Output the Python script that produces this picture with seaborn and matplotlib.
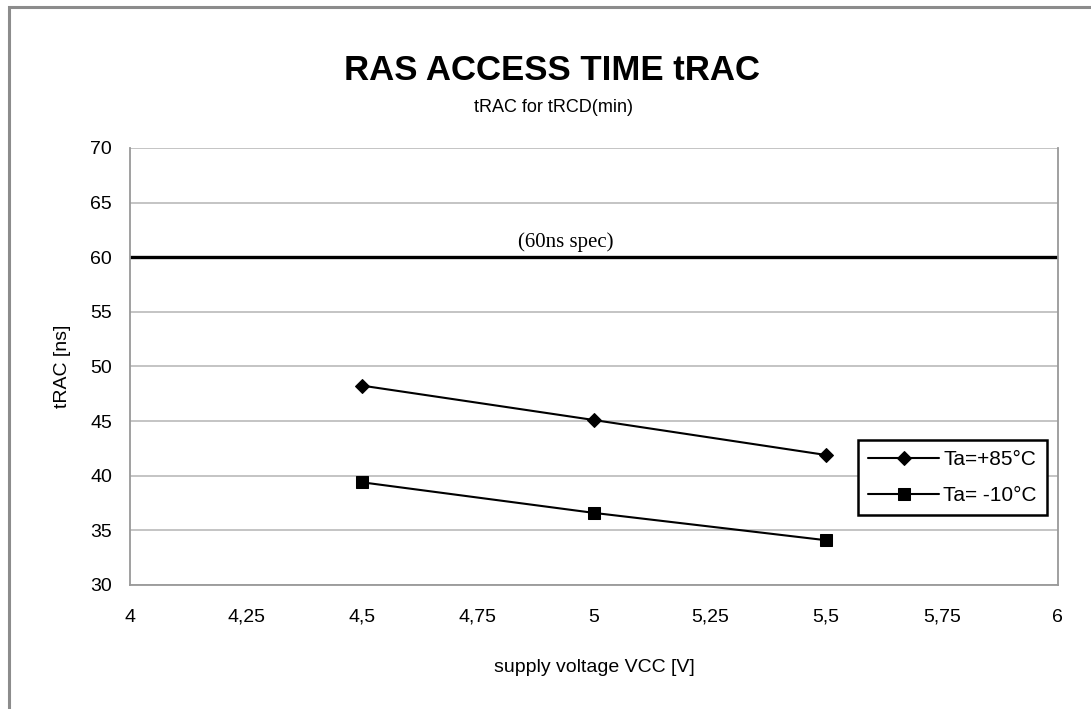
import pandas as pd
import numpy as np
import seaborn as sns
import matplotlib.pyplot as plt
from matplotlib.patches import Rectangle

# Data
vcc = [4.5, 5.0, 5.5]
trac_hot = [48.25, 45.1, 41.9]   # Ta=+85C
trac_cold = [39.4, 36.6, 34.1]   # Ta=-10C
series_names = ["Ta=+85°C", "Ta= -10°C"]
spec_value = 60

x_ticks = [4, 4.25, 4.5, 4.75, 5, 5.25, 5.5, 5.75, 6]
x_tick_labels = ["4", "4,25", "4,5", "4,75", "5", "5,25", "5,5", "5,75", "6"]
y_ticks = [30, 35, 40, 45, 50, 55, 60, 65, 70]

df = pd.DataFrame({
    "VCC": vcc + vcc,
    "tRAC": trac_hot + trac_cold,
    "Ta": [series_names[0]] * 3 + [series_names[1]] * 3,
})

sns.set_style("white")
plt.rcParams["font.family"] = ["Liberation Sans", "DejaVu Sans"]
plt.rcParams["text.color"] = "black"
plt.rcParams["axes.labelcolor"] = "black"
plt.rcParams["xtick.color"] = "black"
plt.rcParams["ytick.color"] = "black"

fig = plt.figure(figsize=(10.91, 7.09), dpi=100)
ax = fig.add_axes([0.1192, 0.1749, 0.8503, 0.6164])

# outer chart frame (only left/top visible in the reference)
fig.patches.append(Rectangle((0.0085, -0.05), 1.2, 1.04, transform=fig.transFigure,
                             fill=False, edgecolor="#8c8c8c", linewidth=2.2, zorder=0))

# horizontal gridlines
for yv in y_ticks:
    ax.axhline(yv, color="#c4c4c4", linewidth=1.4, zorder=0)

sns.lineplot(data=df, x="VCC", y="tRAC", hue="Ta", style="Ta",
             palette=["black", "black"], markers={series_names[0]: "D", series_names[1]: "s"},
             dashes=False, markersize=9, linewidth=1.5, markeredgecolor="black",
             ax=ax, zorder=3)

# 60 ns spec line
ax.axhline(spec_value, color="black", linewidth=2.4, zorder=2)
ax.text(4.94, spec_value + 0.45, "(60ns spec)", ha="center", va="bottom",
        fontsize=15, family=["Liberation Serif", "DejaVu Serif"])

ax.set_xlim(4, 6)
ax.set_ylim(30, 70)
ax.set_xticks(x_ticks)
ax.set_xticklabels(x_tick_labels)
ax.set_yticks(y_ticks)
ax.tick_params(axis="both", direction="inout", length=10, width=1, color="#999999",
               labelsize=14, pad=8)
ax.tick_params(axis="x", pad=12)

for side in ["left", "bottom", "right"]:
    ax.spines[side].set_color("#999999")
    ax.spines[side].set_linewidth(1.3)
ax.spines["top"].set_visible(False)

ax.set_xlabel("supply voltage VCC [V]", fontsize=14, labelpad=24)
ax.set_ylabel("tRAC [ns]", fontsize=14, labelpad=14)

leg = ax.legend(loc="upper right", bbox_to_anchor=(0.9885, 0.332), borderaxespad=0,
                fontsize=15, frameon=True, fancybox=False, edgecolor="black", framealpha=1,
                handlelength=3.4, borderpad=0.5, labelspacing=0.8, handletextpad=0.2)
leg.get_frame().set_linewidth(1.8)

# smaller diamonds, as in the reference
for line in list(ax.lines) + list(leg.get_lines()):
    if line.get_marker() == "D":
        line.set_markersize(7)

fig.text(0.506, 0.9, "RAS ACCESS TIME tRAC", ha="center", va="center",
         fontsize=25, fontweight="bold")
fig.text(0.507, 0.848, "tRAC for tRCD(min)", ha="center", va="center", fontsize=13)

fig.savefig("out.png", dpi=100, facecolor="white")
